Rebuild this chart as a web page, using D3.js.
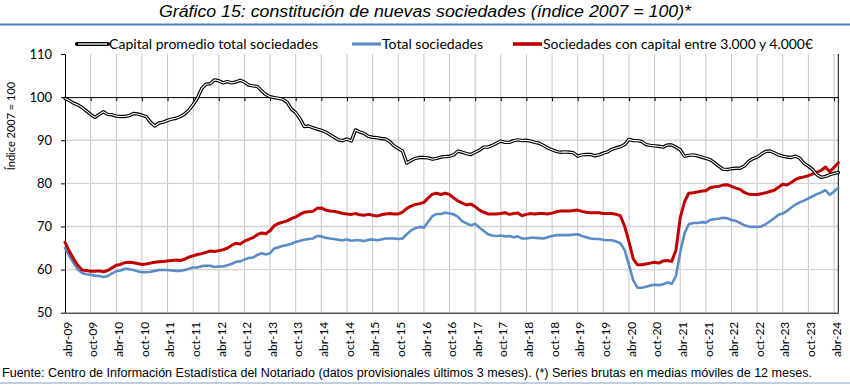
<!DOCTYPE html>
<html>
<head>
<meta charset="utf-8">
<script src="https://cdn.jsdelivr.net/npm/d3@7"></script>
<style>
  html, body { margin: 0; padding: 0; background: #fff; }
  svg { display: block; }
</style>
</head>
<body>
<svg id="chart" width="850" height="385"></svg>
<script>
// ---------------- DATA ----------------
const titleText = "Gráfico 15: constitución de nuevas sociedades (índice 2007 = 100)*";
const footerText = "Fuente: Centro de Información Estadística del Notariado (datos provisionales últimos 3 meses). (*) Series brutas en medias móviles de 12 meses.";
const yTitle = "Índice 2007 = 100";
const seriesNames = ["Capital promedio total sociedades", "Total sociedades", "Sociedades con capital entre 3.000 y 4.000€"];

// monthly, abr-09 .. may-24
const tickLabels = ["abr-09","oct-09","abr-10","oct-10","abr-11","oct-11","abr-12","oct-12","abr-13","oct-13",
  "abr-14","oct-14","abr-15","oct-15","abr-16","oct-16","abr-17","oct-17","abr-18","oct-18",
  "abr-19","oct-19","abr-20","oct-20","abr-21","oct-21","abr-22","oct-22","abr-23","oct-23","abr-24"];
const yTicks = [50, 60, 70, 80, 90, 100, 110];

const capitalPromedio = [
  99.7,99.2,98.6,98.2,97.6,96.8,96.0,95.3,96.0,96.6,
  96.0,95.9,95.6,95.5,95.5,95.7,96.2,96.1,95.8,95.5,
  94.2,93.3,94.0,94.2,94.6,94.9,95.1,95.5,96.1,97.0,
  98.3,99.8,102.0,103.0,103.1,104.0,103.8,103.3,103.6,103.3,
  103.5,103.9,103.5,102.8,102.6,102.5,101.5,100.6,100.1,99.9,
  99.7,99.5,98.8,97.2,96.4,95.0,93.2,93.3,92.9,92.6,
  92.3,91.9,91.3,90.7,90.1,89.9,90.3,89.8,92.4,91.9,
  91.6,90.9,90.7,90.6,90.4,90.3,89.7,88.7,88.1,87.5,
  84.7,85.3,85.8,86.0,86.0,85.9,85.6,85.8,86.1,86.2,
  86.3,86.6,87.5,87.2,86.9,86.7,87.2,87.7,88.4,88.4,
  88.8,89.3,89.8,89.5,89.5,89.9,90.1,89.9,90.0,89.8,
  89.5,89.3,88.8,88.2,87.8,87.4,87.2,87.3,87.2,87.1,
  86.3,86.6,86.7,86.7,86.4,86.6,87.0,87.3,87.9,88.2,
  88.5,89.0,90.2,89.9,89.9,89.7,89.0,88.8,88.7,88.6,
  88.4,88.9,88.9,88.4,87.8,86.3,86.5,86.6,86.4,86.1,
  85.8,85.5,84.8,84.0,83.3,83.2,83.4,83.5,83.5,84.0,
  85.1,85.7,86.1,86.8,87.4,87.5,87.1,86.6,86.3,86.1,
  86.0,86.3,85.8,84.6,84.0,83.2,82.0,81.4,81.6,82.0,
  82.3,82.5
];

const totalSociedades = [
  65.0,63.2,61.5,60.0,59.2,58.9,58.8,58.6,58.5,58.3,
  58.5,59.1,59.6,59.8,60.2,60.1,59.9,59.6,59.4,59.4,
  59.5,59.7,59.9,59.9,59.9,59.8,59.7,59.7,59.9,60.2,
  60.5,60.5,60.8,60.9,60.9,60.6,60.7,60.7,61.0,61.3,
  61.8,61.9,62.3,62.7,62.8,63.4,63.8,63.5,63.8,64.9,
  65.2,65.5,65.7,66.0,66.4,66.7,66.9,67.1,67.2,67.8,
  67.7,67.4,67.2,67.1,66.9,66.8,67.0,66.7,66.8,66.8,
  66.6,66.9,67.0,66.8,67.0,67.2,67.2,67.2,67.1,67.2,
  68.2,69.1,69.6,69.9,69.7,71.1,72.4,72.9,72.9,73.2,
  73.0,72.8,72.2,71.2,70.7,70.3,70.6,69.7,69.0,68.2,
  67.9,67.8,67.9,67.7,67.8,67.5,67.7,67.2,67.2,67.4,
  67.4,67.3,67.2,67.5,67.8,68.0,68.0,68.0,68.0,68.1,
  68.2,67.8,67.5,67.2,67.1,67.1,66.9,66.8,66.8,66.5,
  66.1,64.5,61.1,57.5,55.8,55.8,56.0,56.3,56.5,56.4,
  56.6,57.0,56.7,58.5,64.0,68.4,70.5,70.8,70.8,71.0,
  70.9,71.5,71.7,71.8,72.0,71.9,71.5,71.3,70.8,70.3,
  70.0,69.9,69.9,70.0,70.5,71.2,71.9,72.7,73.0,73.6,
  74.4,75.1,75.6,76.0,76.5,77.0,77.5,77.9,78.4,77.3,
  78.1,79.0
];

const sociedades3000 = [
  66.3,64.3,62.5,61.0,59.9,59.8,59.6,59.6,59.7,59.5,
  59.8,60.4,61.0,61.2,61.6,61.7,61.6,61.4,61.2,61.3,
  61.5,61.7,61.8,61.9,62.0,62.1,62.2,62.1,62.4,62.9,
  63.2,63.5,63.7,64.0,64.3,64.2,64.4,64.6,65.0,65.6,
  66.1,65.9,66.6,67.0,67.4,68.1,68.5,68.3,69.0,70.2,
  70.7,71.0,71.3,71.8,72.2,72.8,73.3,73.4,73.5,74.2,
  74.3,73.8,73.6,73.5,73.3,73.0,72.9,72.8,73.0,72.7,
  72.6,72.8,72.6,72.4,72.7,72.9,73.0,72.9,72.9,73.3,
  74.2,74.7,75.1,75.3,75.6,76.6,77.5,77.7,77.4,77.7,
  77.4,76.6,75.9,75.4,75.0,75.2,74.6,73.8,73.3,72.9,
  72.9,72.9,73.0,73.2,72.8,73.0,73.1,72.5,72.8,73.0,
  72.9,73.0,73.0,72.9,73.1,73.4,73.6,73.6,73.6,73.7,
  73.8,73.5,73.3,73.2,73.2,73.2,73.0,73.0,73.0,72.8,
  72.5,70.0,66.5,62.5,61.1,61.1,61.3,61.5,61.7,61.5,
  62.0,62.1,61.9,64.5,72.0,75.7,77.7,77.8,78.0,78.2,
  78.3,79.0,79.2,79.3,79.6,79.7,79.3,78.9,78.6,77.9,
  77.5,77.4,77.4,77.6,77.8,78.1,78.4,79.1,79.8,79.6,
  80.2,80.9,81.3,81.5,81.8,82.2,82.6,83.0,83.8,82.7,
  83.7,84.8
];

// ---------------- LAYOUT ----------------
const svg = d3.select("#chart");
const W = 850, H = 385;
const plot = { left: 65, right: 838.3, top: 54, bottom: 312.7 };
const n = capitalPromedio.length;

const x = d3.scaleLinear().domain([0, n - 1]).range([plot.left, plot.right]);
const y = d3.scaleLinear().domain([50, 110]).range([plot.bottom, plot.top]);
const tickIdx = tickLabels.map((_, i) => i * 6);

const fontAxis = "Lato, 'Open Sans', sans-serif";
const fontNarrow = "'Liberation Sans Narrow', 'Liberation Sans', Arial, sans-serif";

// title
svg.append("text")
  .attr("x", 425).attr("y", 17)
  .attr("text-anchor", "middle")
  .attr("font-family", fontNarrow)
  .attr("font-style", "italic")
  .attr("font-size", 16)
  .attr("fill", "#000")
  .attr("textLength", 532).attr("lengthAdjust", "spacingAndGlyphs")
  .text(titleText);

// top rule
svg.append("line").attr("x1", 0).attr("x2", W).attr("y1", 24.5).attr("y2", 24.5)
  .attr("stroke", "#4f81bd").attr("stroke-width", 2);

// bottom rule
svg.append("line").attr("x1", 0).attr("x2", W).attr("y1", 383).attr("y2", 383)
  .attr("stroke", "#7f9fc6").attr("stroke-width", 1.2);

// gridlines vertical
const g = svg.append("g");
g.selectAll("line.vg").data(tickIdx.filter(i => i > 0)).enter().append("line")
  .attr("class", "vg")
  .attr("x1", d => x(d)).attr("x2", d => x(d))
  .attr("y1", y(110)).attr("y2", y(50))
  .attr("stroke", "#c4c4c4").attr("stroke-width", 1);

// gridlines horizontal
g.selectAll("line.hg").data([60, 70, 80, 90]).enter().append("line")
  .attr("class", "hg")
  .attr("x1", plot.left).attr("x2", plot.right)
  .attr("y1", d => y(d)).attr("y2", d => y(d))
  .attr("stroke", "#d4d4d4").attr("stroke-width", 1.4);

// right border & bottom border
svg.append("line").attr("x1", plot.right).attr("x2", plot.right)
  .attr("y1", y(110)).attr("y2", y(50)).attr("stroke", "#000").attr("stroke-width", 1);

// x axis at 100 with downward ticks
const xAxis100 = d3.axisBottom(x).tickValues(tickIdx).tickSize(4).tickFormat("").tickSizeOuter(0);
svg.append("g").attr("transform", `translate(0,${y(100)})`).call(xAxis100)
  .call(s => s.selectAll("path,line").attr("stroke", "#000"));

// bottom axis with labels
const xAxisBottom = d3.axisBottom(x).tickValues(tickIdx).tickSize(0).tickSizeOuter(0)
  .tickFormat((d, i) => tickLabels[i]);
const xb = svg.append("g").attr("transform", `translate(0,${y(50)})`).call(xAxisBottom);
xb.select("path.domain").attr("stroke", "#000");
xb.selectAll("text")
  .attr("font-family", fontAxis).attr("font-size", 12).attr("fill", "#000")
  .attr("text-anchor", "end")
  .attr("transform", "rotate(-90)")
  .attr("x", -9).attr("y", 2).attr("dy", "0.35em");

// y axis
const yAxis = d3.axisLeft(y).tickValues(yTicks).tickSize(4).tickSizeOuter(0).tickPadding(9);
const ya = svg.append("g").attr("transform", `translate(${plot.left},0)`).call(yAxis);
ya.selectAll("path,line").attr("stroke", "#000");
ya.selectAll("text").attr("font-family", fontAxis).attr("font-size", 13).attr("fill", "#000");

// y title
svg.append("text")
  .attr("transform", `translate(15,126) rotate(-90)`)
  .attr("text-anchor", "middle")
  .attr("font-family", fontAxis).attr("font-size", 11).attr("fill", "#000")
  .text(yTitle);

// lines
const line = d3.line().x((d, i) => x(i)).y(d => y(d)).curve(d3.curveLinear);
const lines = svg.append("g").attr("fill", "none").attr("stroke-linejoin", "round").attr("stroke-linecap", "round");

lines.append("path").datum(totalSociedades).attr("d", line)
  .attr("stroke", "#5b8cc8").attr("stroke-width", 2.6);
lines.append("path").datum(sociedades3000).attr("d", line)
  .attr("stroke", "#c00000").attr("stroke-width", 3);
lines.append("path").datum(capitalPromedio).attr("d", line)
  .attr("stroke", "#000").attr("stroke-width", 3.4);
lines.append("path").datum(capitalPromedio).attr("d", line)
  .attr("stroke", "#fff").attr("stroke-width", 1.1);

// legend
const legendItems = [
  { name: seriesNames[0], x1: 77, x2: 108, tx: 109, tl: 209, type: "double" },
  { name: seriesNames[1], x1: 352, x2: 381, tx: 382, tl: 101, color: "#5b8cc8", w: 2.6 },
  { name: seriesNames[2], x1: 513, x2: 542, tx: 543, tl: 270, color: "#c00000", w: 3 }
];
const ly = 44;
const lg = svg.append("g");
legendItems.forEach(it => {
  if (it.type === "double") {
    lg.append("line").attr("x1", it.x1).attr("x2", it.x2).attr("y1", ly).attr("y2", ly)
      .attr("stroke", "#000").attr("stroke-width", 4).attr("stroke-linecap", "round");
    lg.append("line").attr("x1", it.x1 + 1).attr("x2", it.x2 - 1).attr("y1", ly).attr("y2", ly)
      .attr("stroke", "#fff").attr("stroke-width", 1.3);
  } else {
    lg.append("line").attr("x1", it.x1).attr("x2", it.x2).attr("y1", ly).attr("y2", ly)
      .attr("stroke", it.color).attr("stroke-width", it.w + 0.6);
  }
  lg.append("text").attr("x", it.tx).attr("y", ly).attr("dy", "0.35em")
    .attr("font-family", fontAxis).attr("font-size", 13).attr("fill", "#000")
    .attr("textLength", it.tl).attr("lengthAdjust", "spacingAndGlyphs")
    .text(it.name);
});

// footer
svg.append("text")
  .attr("x", 2).attr("y", 377)
  .attr("font-family", fontNarrow).attr("font-size", 12).attr("fill", "#000")
  .attr("textLength", 810).attr("lengthAdjust", "spacingAndGlyphs")
  .text(footerText);
</script>
</body>
</html>
